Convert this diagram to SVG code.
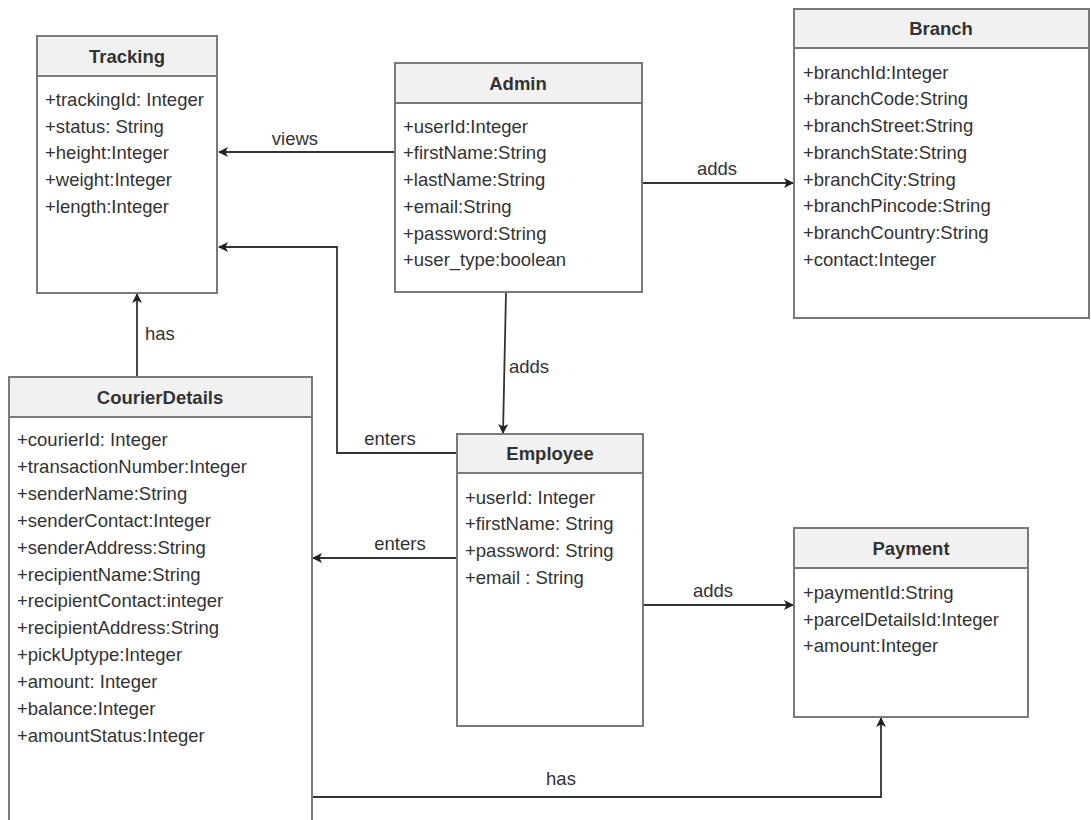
<svg xmlns="http://www.w3.org/2000/svg" width="1091" height="820" viewBox="0 0 1091 820">
<defs>
<style>
.box{fill:#ffffff;stroke:#7a7a7a;stroke-width:2}
.hdr{fill:#f1f1f1;stroke:#7a7a7a;stroke-width:2}
.title{font-family:"Liberation Sans",Arial,sans-serif;font-size:18.5px;font-weight:bold;fill:#333333;text-anchor:middle}
.attr{font-family:"Liberation Sans",Arial,sans-serif;font-size:18.5px;fill:#333333}
.lbl{font-family:"Liberation Sans",Arial,sans-serif;font-size:18.5px;fill:#333333;text-anchor:middle}
.edge{fill:none;stroke:#333333;stroke-width:1.8}
</style>
<marker id="arr" viewBox="0 0 10 10" refX="9" refY="5" markerWidth="10" markerHeight="10" markerUnits="userSpaceOnUse" orient="auto">
<path d="M0,0 L10,5 L0,10 L2.5,5 z" fill="#222222"/>
</marker>
</defs>
<rect width="1091" height="820" fill="#ffffff"/>

<g id="connectors">
<line class="edge" x1="394" y1="152" x2="219" y2="152" marker-end="url(#arr)"/>
<text class="lbl" x="295" y="145">views</text>
<line class="edge" x1="642" y1="183" x2="793" y2="183" marker-end="url(#arr)"/>
<text class="lbl" x="717" y="175">adds</text>
<line class="edge" x1="506" y1="292" x2="503" y2="433" marker-end="url(#arr)"/>
<text class="attr" x="509" y="373">adds</text>
<polyline class="edge" points="457,453 337,453 337,247 219,247" marker-end="url(#arr)"/>
<text class="lbl" x="390" y="445">enters</text>
<line class="edge" x1="457" y1="558" x2="313" y2="558" marker-end="url(#arr)"/>
<text class="lbl" x="400" y="550">enters</text>
<line class="edge" x1="643" y1="605" x2="793" y2="605" marker-end="url(#arr)"/>
<text class="lbl" x="713" y="597">adds</text>
<line class="edge" x1="137" y1="377" x2="137" y2="294" marker-end="url(#arr)"/>
<text class="attr" x="145" y="340">has</text>
<polyline class="edge" points="312,797 881,797 881,718" marker-end="url(#arr)"/>
<text class="lbl" x="561" y="785">has</text>
</g>

<g id="tracking">
<rect class="box" x="37" y="36" width="180" height="257"/>
<rect class="hdr" x="37" y="36" width="180" height="40"/>
<text class="title" x="127" y="63">Tracking</text>
<text class="attr" x="45" y="106">+trackingId: Integer</text>
<text class="attr" x="45" y="133">+status: String</text>
<text class="attr" x="45" y="159">+height:Integer</text>
<text class="attr" x="45" y="186">+weight:Integer</text>
<text class="attr" x="45" y="213">+length:Integer</text>
</g>

<g id="admin">
<rect class="box" x="395" y="63" width="247" height="229"/>
<rect class="hdr" x="395" y="63" width="247" height="40"/>
<text class="title" x="518" y="90">Admin</text>
<text class="attr" x="403" y="133">+userId:Integer</text>
<text class="attr" x="403" y="159">+firstName:String</text>
<text class="attr" x="403" y="186">+lastName:String</text>
<text class="attr" x="403" y="213">+email:String</text>
<text class="attr" x="403" y="240">+password:String</text>
<text class="attr" x="403" y="266">+user_type:boolean</text>
</g>

<g id="branch">
<rect class="box" x="794" y="9" width="295" height="309"/>
<rect class="hdr" x="794" y="9" width="295" height="39"/>
<text class="title" x="941" y="35">Branch</text>
<text class="attr" x="803" y="79">+branchId:Integer</text>
<text class="attr" x="803" y="105">+branchCode:String</text>
<text class="attr" x="803" y="132">+branchStreet:String</text>
<text class="attr" x="803" y="159">+branchState:String</text>
<text class="attr" x="803" y="186">+branchCity:String</text>
<text class="attr" x="803" y="212">+branchPincode:String</text>
<text class="attr" x="803" y="239">+branchCountry:String</text>
<text class="attr" x="803" y="266">+contact:Integer</text>
</g>

<g id="courierdetails">
<rect class="box" x="9" y="377" width="303" height="460"/>
<rect class="hdr" x="9" y="377" width="303" height="40"/>
<text class="title" x="160" y="404">CourierDetails</text>
<text class="attr" x="17" y="446">+courierId: Integer</text>
<text class="attr" x="17" y="473">+transactionNumber:Integer</text>
<text class="attr" x="17" y="500">+senderName:String</text>
<text class="attr" x="17" y="527">+senderContact:Integer</text>
<text class="attr" x="17" y="554">+senderAddress:String</text>
<text class="attr" x="17" y="581">+recipientName:String</text>
<text class="attr" x="17" y="607">+recipientContact:integer</text>
<text class="attr" x="17" y="634">+recipientAddress:String</text>
<text class="attr" x="17" y="661">+pickUptype:Integer</text>
<text class="attr" x="17" y="688">+amount: Integer</text>
<text class="attr" x="17" y="715">+balance:Integer</text>
<text class="attr" x="17" y="742">+amountStatus:Integer</text>
</g>

<g id="employee">
<rect class="box" x="457" y="434" width="186" height="292"/>
<rect class="hdr" x="457" y="434" width="186" height="39"/>
<text class="title" x="550" y="460">Employee</text>
<text class="attr" x="465" y="504">+userId: Integer</text>
<text class="attr" x="465" y="530">+firstName: String</text>
<text class="attr" x="465" y="557">+password: String</text>
<text class="attr" x="465" y="584">+email : String</text>
</g>

<g id="payment">
<rect class="box" x="794" y="528" width="234" height="189"/>
<rect class="hdr" x="794" y="528" width="234" height="40"/>
<text class="title" x="911" y="555">Payment</text>
<text class="attr" x="803" y="599">+paymentId:String</text>
<text class="attr" x="803" y="626">+parcelDetailsId:Integer</text>
<text class="attr" x="803" y="652">+amount:Integer</text>
</g>
</svg>
